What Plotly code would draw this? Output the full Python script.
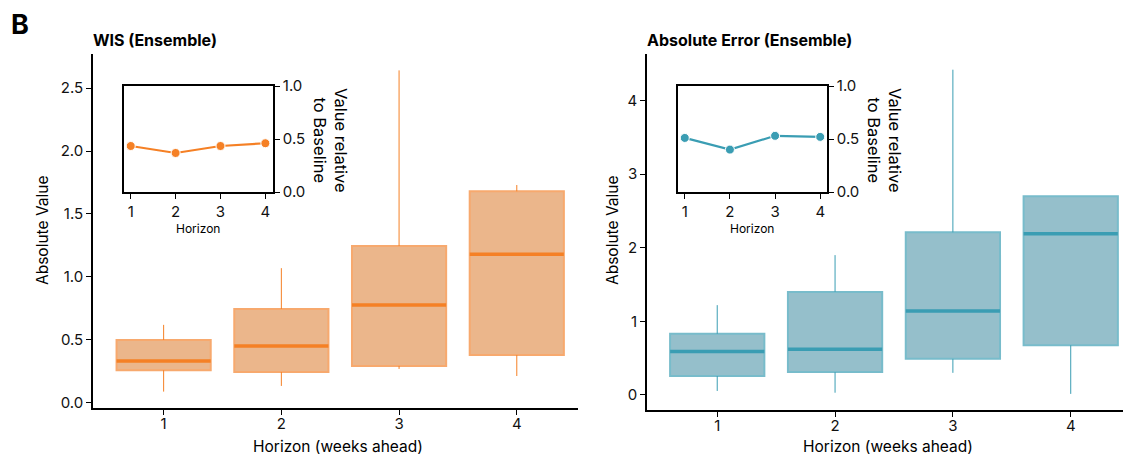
import plotly.graph_objects as go

# ---- data ----
horizons = [1, 2, 3, 4]

wis_low = [0.09, 0.135, 0.27, 0.214]
wis_q1 = [0.26, 0.246, 0.294, 0.381]
wis_med = [0.333, 0.452, 0.778, 1.18]
wis_q3 = [0.50, 0.746, 1.246, 1.68]
wis_high = [0.62, 1.07, 2.64, 1.73]
wis_rel = [0.434, 0.368, 0.434, 0.46]

ae_low = [0.054, 0.03, 0.30, 0.014]
ae_q1 = [0.257, 0.31, 0.49, 0.675]
ae_med = [0.59, 0.62, 1.14, 2.19]
ae_q3 = [0.83, 1.40, 2.21, 2.70]
ae_high = [1.22, 1.90, 4.42, 2.70]
ae_rel = [0.51, 0.40, 0.53, 0.52]

W, H = 1131, 454
OFF = 8  # page body margin
FONT = "Inter"
BOXW = 0.8

ORANGE = "#F58025"
ORANGE_FILL = "#EBB68B"
ORANGE_EDGE = "#F7A96E"
TEAL = "#3A9DB3"
TEAL_FILL = "#95BFCB"
TEAL_EDGE = "#78BCCB"


def px_x(p):
    return (p - OFF) / W


def px_y(p):
    return 1 - (p - OFF) / H


fig = go.Figure()


def add_boxes(xa, ya, low, q1, med, q3, high, col, fill, edge):
    wx, wy = [], []
    for h, lo, a, b, hi in zip(horizons, low, q1, q3, high):
        wx += [h, h, None, h, h, None]
        wy += [lo, a, None, b, hi, None]
    fig.add_trace(go.Scatter(x=wx, y=wy, mode="lines", xaxis=xa, yaxis=ya,
                             line=dict(color=col, width=1), hoverinfo="skip",
                             showlegend=False))
    fig.add_trace(go.Bar(x=horizons, y=[b - a for a, b in zip(q1, q3)], base=q1,
                         width=BOXW, xaxis=xa, yaxis=ya,
                         marker=dict(color=fill, line=dict(color=edge, width=2)),
                         showlegend=False))
    mx, my = [], []
    for h, m in zip(horizons, med):
        mx += [h - BOXW / 2, h + BOXW / 2, None]
        my += [m, m, None]
    fig.add_trace(go.Scatter(x=mx, y=my, mode="lines", xaxis=xa, yaxis=ya,
                             line=dict(color=col, width=3.5), showlegend=False))


def add_inset(xa, ya, rel, col):
    fig.add_trace(go.Scatter(x=horizons, y=rel, mode="lines+markers", xaxis=xa, yaxis=ya,
                             line=dict(color=col, width=2.2),
                             marker=dict(size=9, color=col, line=dict(color="white", width=1)),
                             showlegend=False))


add_boxes("x", "y", wis_low, wis_q1, wis_med, wis_q3, wis_high, ORANGE, ORANGE_FILL, ORANGE_EDGE)
add_boxes("x2", "y2", ae_low, ae_q1, ae_med, ae_q3, ae_high, TEAL, TEAL_FILL, TEAL_EDGE)
add_inset("x3", "y3", wis_rel, ORANGE)
add_inset("x4", "y4", ae_rel, TEAL)

tickfont = dict(family=FONT, size=15, color="#111")
common = dict(showline=True, linecolor="black", linewidth=1.6, ticks="outside",
              ticklen=5, tickwidth=1.4, tickcolor="black", showgrid=False,
              zeroline=False, automargin=False, tickfont=tickfont)
xmain = dict(common, ticklabelstandoff=-4)

fig.update_layout(
    width=W, height=H,
    margin=dict(l=0, r=0, t=0, b=0),
    paper_bgcolor="white", plot_bgcolor="rgba(0,0,0,0)",
    barmode="overlay", showlegend=False,
    font=dict(family=FONT, color="#111"),
    xaxis=dict(domain=[px_x(93), px_x(578)], range=[0.4, 4.52], tickvals=horizons,
               anchor="y", **xmain),
    yaxis=dict(domain=[px_y(408), px_y(54)], range=[-0.04, 2.77], dtick=0.5,
               tickformat=".1f", anchor="x", **common),
    xaxis2=dict(domain=[px_x(647), px_x(1132)], range=[0.404, 4.52], tickvals=horizons,
                anchor="y2", **xmain),
    yaxis2=dict(domain=[px_y(410), px_y(53.5)], range=[-0.205, 4.64], dtick=1,
                anchor="x2", **common),
    xaxis3=dict(domain=[px_x(124), px_x(273)], range=[0.85, 4.17], tickvals=horizons,
                anchor="y3", mirror=True, **common),
    yaxis3=dict(domain=[px_y(192), px_y(86)], range=[0, 1.0], tickvals=[0, 0.5, 1.0],
                tickformat=".1f", side="right", anchor="x3", mirror=True, **common),
    xaxis4=dict(domain=[px_x(678), px_x(827)], range=[0.85, 4.15], tickvals=horizons,
                anchor="y4", mirror=True, **common),
    yaxis4=dict(domain=[px_y(192), px_y(86)], range=[0, 1.0], tickvals=[0, 0.5, 1.0],
                tickformat=".1f", side="right", anchor="x4", mirror=True, **common),
)


def ann(text, x, y, size, bold=False, angle=0, xanchor="center", yanchor="middle"):
    fig.add_annotation(text=f"<b>{text}</b>" if bold else text,
                       x=px_x(x), y=px_y(y), xref="paper", yref="paper",
                       showarrow=False, textangle=angle, xanchor=xanchor, yanchor=yanchor,
                       font=dict(family=FONT, size=size, color="black"))


ann("B", 9, 25, 27, bold=True, xanchor="left")
ann("WIS (Ensemble)", 91, 40, 16, bold=True, xanchor="left")
ann("Absolute Error (Ensemble)", 645, 40, 16, bold=True, xanchor="left")
ann("Absolute Value", 43, 231, 15.5, angle=-90)
ann("Absolute Value", 613, 231, 15.5, angle=-90)
ann("Horizon (weeks ahead)", 338, 446, 15.5)
ann("Horizon (weeks ahead)", 888, 446, 15.5)
ann("Horizon", 198, 228, 12)
ann("Horizon", 752, 228, 12)
ann("Value relative<br>to Baseline", 331, 140, 16.5, angle=90)
ann("Value relative<br>to Baseline", 885, 140, 16.5, angle=90)

fig.write_html("out.html")
